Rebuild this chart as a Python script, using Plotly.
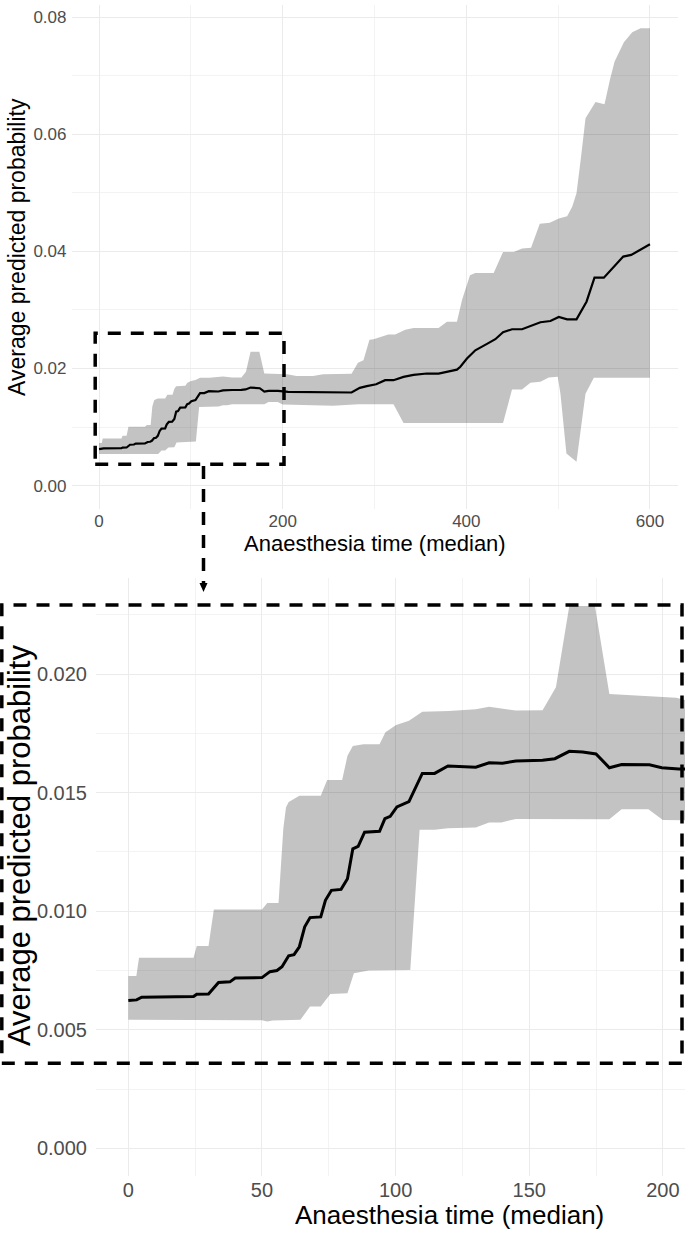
import plotly.graph_objects as go

# ---------------- data ----------------
mean_x = [0, 3.1, 5, 24.4, 25.6, 30, 33.75, 38, 40, 50, 53, 55.6, 57.5, 60, 62, 64, 66, 68, 72,
          73.75, 76, 79.6, 82, 84, 86, 88.4, 94, 96, 98, 100.5, 105, 110, 114.6, 119.6, 130, 135,
          140, 145, 155, 159.6, 165, 170, 175, 180, 184.6, 195, 199.6, 206, 275, 284, 291.6,
          301.8, 311.6, 320.7, 331.6, 342.5, 357, 369.8, 389.8, 393.5, 400.7, 409.8, 422.5, 431.6,
          440, 449.8, 460.7, 471.6, 480.7, 491.6, 500.7, 509.8, 520, 530.9, 539.6, 549.8, 560.7,
          570.9, 579.6, 589.8, 600]
mean_y = [0.00623, 0.00626, 0.00637, 0.0064, 0.0065, 0.00651, 0.00699, 0.00702, 0.00718, 0.0072,
          0.00745, 0.0075, 0.00766, 0.00812, 0.00817, 0.0085, 0.00934, 0.00973, 0.00976,
          0.01046, 0.01088, 0.01092, 0.01137, 0.01263, 0.01273, 0.01333, 0.01337, 0.0139, 0.014,
          0.0144, 0.01462, 0.01581, 0.01581, 0.01612, 0.01607, 0.01626, 0.01624, 0.01633, 0.01636,
          0.01643, 0.01674, 0.01671, 0.01663, 0.01605, 0.01618, 0.01617, 0.01605, 0.0160, 0.0159,
          0.0167, 0.0170, 0.0173, 0.0180, 0.0180, 0.01857, 0.0189, 0.01914, 0.01914, 0.0198,
          0.0203, 0.0217, 0.0231, 0.0242, 0.0250, 0.0262, 0.0267, 0.0267, 0.0273, 0.0279, 0.0281,
          0.0288, 0.0284, 0.0284, 0.0314, 0.0355, 0.0355, 0.0374, 0.0391, 0.0394, 0.0403, 0.0412]

upper_x = [0, 3, 4, 24.4, 25.6, 30, 32, 50, 52, 56.2, 58, 59, 60, 62, 64, 72, 74.4, 80, 82, 84,
           88, 94, 96.2, 100.2, 105, 110, 120, 130, 135, 145, 155, 160, 165, 174.6, 180, 205,
           215, 233, 244, 275, 282, 288, 294.5, 299, 306, 315, 322.5, 333.5, 342.5, 369.8, 378.9,
           389.8, 395.3, 400.7, 404, 409.8, 429.8, 440, 451.6, 460.7, 470.5, 480, 490.9, 500.7,
           509.8, 515.3, 520, 525, 529.8, 540.7, 550.5, 556.4, 561.5, 571.6, 580.7, 589.8, 600]
upper_y = [0.00727, 0.00727, 0.00804, 0.00804, 0.00853, 0.00853, 0.01007, 0.01007, 0.01035,
           0.01035, 0.0135, 0.01438, 0.0146, 0.01473, 0.01487, 0.01487, 0.01553, 0.01553, 0.01655,
           0.01697, 0.01704, 0.01704, 0.01755, 0.01785, 0.01803, 0.01841, 0.01844, 0.01851,
           0.01862, 0.01846, 0.01847, 0.01944, 0.02287, 0.02287, 0.01916, 0.0190, 0.0187, 0.0187,
           0.0190, 0.0191, 0.0210, 0.0214, 0.0249, 0.0250, 0.0254, 0.0258, 0.0258, 0.0266, 0.0269,
           0.0269, 0.0280, 0.0280, 0.0317, 0.0345, 0.0359, 0.0363, 0.0363, 0.0399, 0.0399, 0.0405,
           0.0406, 0.0447, 0.0449, 0.0456, 0.0460, 0.0476, 0.0499, 0.0562, 0.0627, 0.0655, 0.0651,
           0.0693, 0.0724, 0.0757, 0.0774, 0.0781, 0.0781]

lower_x = [0, 50, 52, 54, 64.4, 68, 72, 75.6, 82, 84.4, 90, 105.5, 109, 114.6, 119.6, 130, 135,
           139.6, 145, 160, 175, 180, 184.6, 194.6, 200, 222.5, 255, 282.5, 320.7, 331.6, 440,
           449.8, 460.7, 469.8, 480.7, 489.8, 499.6, 502.5, 509, 520, 529.8, 538.9, 568, 600]
lower_y = [0.00542, 0.0054, 0.00535, 0.00539, 0.00542, 0.00598, 0.00598, 0.00651, 0.00654,
           0.00738, 0.0075, 0.00752, 0.01343, 0.01343, 0.0135, 0.01353, 0.01374, 0.01374, 0.01389,
           0.0139, 0.01388, 0.01388, 0.0143, 0.0143, 0.01385, 0.0138, 0.01366, 0.0139, 0.0139,
           0.0107, 0.0107, 0.0164, 0.0164, 0.01755, 0.01772, 0.01846, 0.01858, 0.0157, 0.0055,
           0.0041, 0.0157, 0.0184, 0.01835, 0.0184]

top_xticks = [0, 200, 400, 600]
top_yticks = [0.00, 0.02, 0.04, 0.06, 0.08]
top_ytext = ["0.00", "0.02", "0.04", "0.06", "0.08"]
bot_xticks = [0, 50, 100, 150, 200]
bot_yticks = [0.000, 0.005, 0.010, 0.015, 0.020]
bot_ytext = ["0.000", "0.005", "0.010", "0.015", "0.020"]
x_title = "Anaesthesia time (median)"
y_title = "Average predicted probability"

# ---------------- layout helpers ----------------
W, H = 685, 1238
def PX(x):
    return x / W
def PY(y):
    return 1 - y / H

FONT = "Liberation Sans, Arial, sans-serif"
GRID = "#EBEBEB"
TICKC = "#4D4D4D"
RIBBON = "rgba(0,0,0,0.235)"

fig = go.Figure()

poly_x = upper_x + lower_x[::-1]
poly_y = upper_y + lower_y[::-1]

for xa, ya, lw in (("x", "y", 2.2), ("x2", "y2", 3.0)):
    fig.add_trace(go.Scatter(x=poly_x, y=poly_y, fill="toself", fillcolor=RIBBON,
                             line=dict(width=0), mode="lines", hoverinfo="skip",
                             xaxis=xa, yaxis=ya))
    fig.add_trace(go.Scatter(x=mean_x, y=mean_y, mode="lines",
                             line=dict(color="black", width=lw),
                             xaxis=xa, yaxis=ya))

def axis(domain, rng, tickvals, ticktext, minor_vals, size, anchor, standoff=None):
    d = dict(domain=domain, range=rng, tickvals=tickvals, ticktext=ticktext,
             showgrid=True, gridcolor=GRID, gridwidth=1, zeroline=False,
             showline=False, ticks="", anchor=anchor,
             tickfont=dict(family=FONT, size=size, color=TICKC),
             minor=dict(tickvals=minor_vals, showgrid=True, gridcolor=GRID, gridwidth=0.6),
             automargin=False, fixedrange=True)
    if standoff is not None:
        d["ticklabelstandoff"] = standoff
    return d

fig.update_layout(
    width=W, height=H,
    margin=dict(l=0, r=0, t=0, b=0),
    paper_bgcolor="white", plot_bgcolor="white",
    showlegend=False,
    xaxis=axis([PX(71.5), PX(677.5)], [-30, 630], top_xticks, [str(v) for v in top_xticks],
               [100, 300, 500], 17, "y"),
    yaxis=axis([PY(508.5), PY(5.3)], [-0.0039, 0.0820], top_yticks, top_ytext,
               [0.01, 0.03, 0.05, 0.07], 17, "x", standoff=4),
    xaxis2=axis([PX(96), 1.0], [-12.1, 208.3], bot_xticks, [str(v) for v in bot_xticks],
                [25, 75, 125, 175], 20, "y2"),
    yaxis2=axis([PY(1175.5), PY(578.1)], [-0.001145, 0.024045], bot_yticks, bot_ytext,
                [0.0025, 0.0075, 0.0125, 0.0175, 0.0225], 20, "x2", standoff=8),
)

# axis titles
fig.add_annotation(x=PX(374.5), y=PY(543), xref="paper", yref="paper", text=x_title,
                   showarrow=False, font=dict(family=FONT, size=22, color="black"),
                   xanchor="center", yanchor="middle")
fig.add_annotation(x=PX(17), y=PY(247), xref="paper", yref="paper", text=y_title,
                   showarrow=False, textangle=-90, font=dict(family=FONT, size=23, color="black"),
                   xanchor="center", yanchor="middle")
fig.add_annotation(x=PX(449), y=PY(1215), xref="paper", yref="paper", text=x_title,
                   showarrow=False, font=dict(family=FONT, size=26, color="black"),
                   xanchor="center", yanchor="middle")
fig.add_annotation(x=PX(19), y=PY(846), xref="paper", yref="paper", text=y_title,
                   showarrow=False, textangle=-90, font=dict(family=FONT, size=31, color="black"),
                   xanchor="center", yanchor="middle")

# dashed zoom boxes and arrow (drawn overlay)
DASH = "13px,10px"
fig.add_shape(type="rect", xref="paper", yref="paper",
              x0=PX(95.2), x1=PX(284), y0=PY(464.3), y1=PY(333.3),
              line=dict(color="black", width=3.5, dash=DASH))
fig.add_shape(type="rect", xref="paper", yref="paper",
              x0=PX(1.8), x1=PX(682), y0=PY(1063.3), y1=PY(605),
              line=dict(color="black", width=3.5, dash=DASH))
fig.add_shape(type="line", xref="paper", yref="paper",
              x0=PX(203.5), x1=PX(203.5), y0=PY(466), y1=PY(583),
              line=dict(color="black", width=3.5, dash=DASH))
fig.add_shape(type="path", xref="paper", yref="paper",
              path=f"M {PX(199.5)} {PY(583)} L {PX(207.5)} {PY(583)} L {PX(203.5)} {PY(592)} Z",
              fillcolor="black", line=dict(color="black", width=0))

fig.write_html("out.html",
               config={"displayModeBar": False, "staticPlot": True},
               post_script="document.body.style.margin='0';document.body.style.overflow='hidden';")
